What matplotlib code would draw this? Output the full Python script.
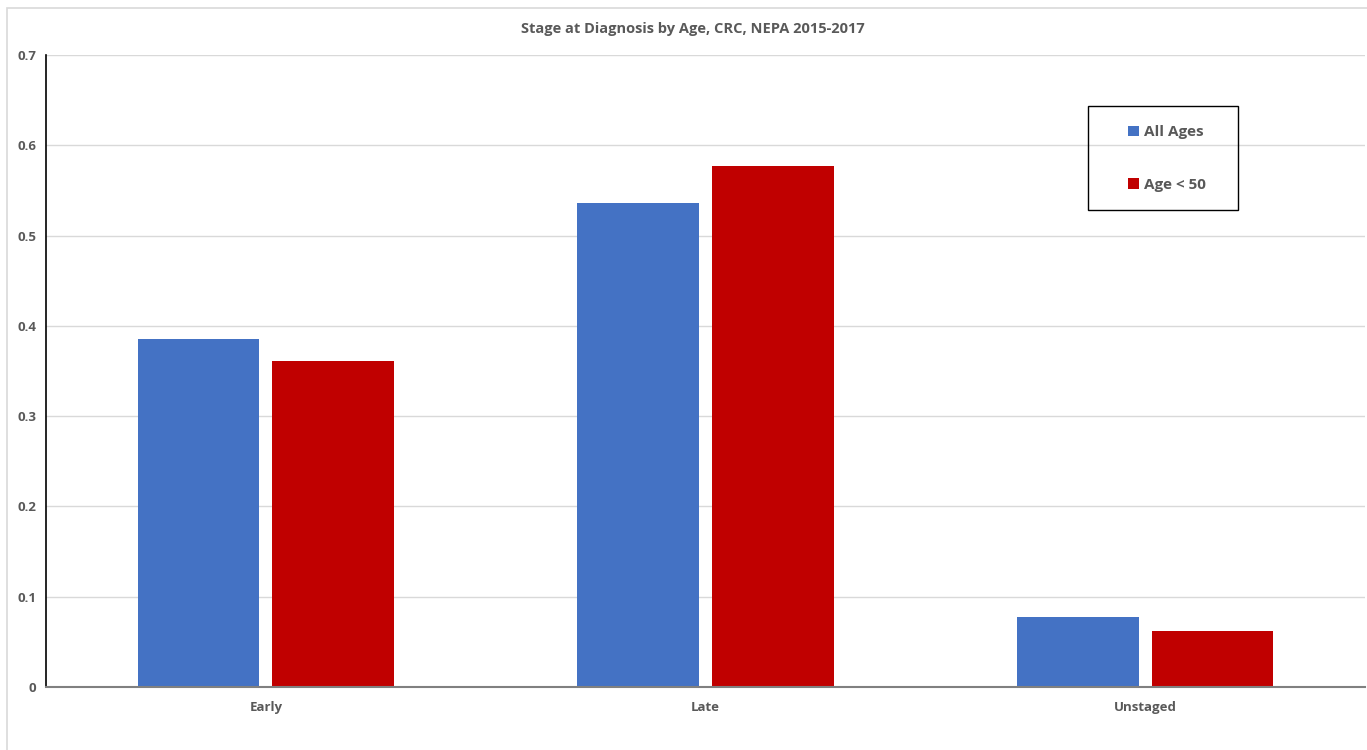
import numpy as np
import matplotlib.pyplot as plt
from matplotlib.patches import Rectangle

categories = ["Early", "Late", "Unstaged"]
all_ages = [0.385, 0.536, 0.078]
age_under_50 = [0.361, 0.577, 0.062]
yticks = [0, 0.1, 0.2, 0.3, 0.4, 0.5, 0.6, 0.7]

plt.rcParams['font.family'] = ['Open Sans', 'DejaVu Sans']
text_color = "#595959"

W, H = 1367, 750
fig = plt.figure(figsize=(13.67, 7.5), dpi=100)
# outer chart border
fig.patches.append(Rectangle((7 / W, -0.01), 1.02, 1 - 8 / H + 0.01,
                             transform=fig.transFigure, fill=False,
                             edgecolor="#d9d9d9", linewidth=1.2))

ax = fig.add_axes([46 / W, 1 - 687 / H, 1319 / W, 632 / H])

x = np.arange(len(categories))
w = 0.277
off = 0.153
ax.bar(x - off, all_ages, w, color="#4472c4", label="All Ages", zorder=3)
ax.bar(x + off, age_under_50, w, color="#c00000", label="Age < 50", zorder=3)

ax.set_xlim(-0.5, 2.5)
ax.set_ylim(0, 0.7)
ax.set_yticks(yticks)
ax.set_yticklabels(["0"] + [f"{v:.1f}" for v in yticks[1:]])
ax.set_xticks(x)
ax.set_xticklabels(categories)
ax.grid(axis="y", color="#d9d9d9", linewidth=1, zorder=0)

for s in ["top", "right"]:
    ax.spines[s].set_visible(False)
ax.spines["left"].set_color("black")
ax.spines["left"].set_linewidth(1.2)
ax.spines["bottom"].set_color("#808080")
ax.spines["bottom"].set_linewidth(1.5)
ax.spines["bottom"].set_zorder(4)

ax.tick_params(length=0, colors=text_color, labelsize=9.5, pad=10)
for lab in ax.get_xticklabels() + ax.get_yticklabels():
    lab.set_fontweight("bold")
ax.tick_params(axis="y", pad=7)

fig.text(693 / W, 1 - 29 / H, "Stage at Diagnosis by Age, CRC, NEPA 2015-2017",
         fontsize=10.5, fontweight="bold", color=text_color,
         ha="center", va="center")

# legend box drawn separately so padding can differ per side
fig.patches.append(Rectangle((1088 / W, 1 - 210 / H), 150 / W, 104 / H,
                             transform=fig.transFigure, fill=False,
                             edgecolor="black", linewidth=1.0, zorder=5))
leg = fig.legend(loc="center", bbox_to_anchor=(1167 / W, 1 - 158.5 / H),
                 frameon=False, prop={"size": 11, "weight": "bold"},
                 handlelength=0.7, handleheight=0.7, handletextpad=0.35,
                 labelspacing=2.5, borderpad=0)
for t in leg.get_texts():
    t.set_color(text_color)

fig.savefig("out.png", dpi=100)
